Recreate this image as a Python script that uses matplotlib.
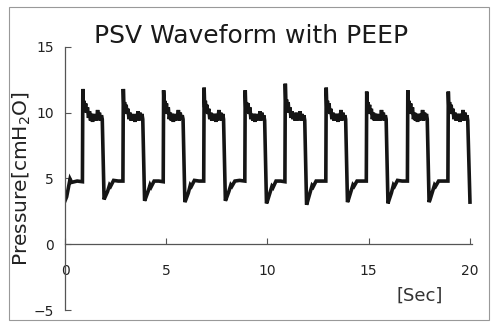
import matplotlib.pyplot as plt
from matplotlib.patches import Rectangle

# pressure trace, one row per breath
time_s = [
    0.00, 0.08, 0.17, 0.25, 0.33, 0.60,
    0.86, 0.88, 0.91, 0.94, 0.98, 1.02, 1.06, 1.11, 1.16, 1.21, 1.26, 1.31, 1.36, 1.41, 1.46, 1.51, 1.56, 1.61, 1.65, 1.70, 1.75, 1.80, 1.84, 1.93, 1.97, 2.10, 2.20, 2.25, 2.40, 2.63,
    2.86, 2.88, 2.91, 2.94, 2.98, 3.02, 3.06, 3.11, 3.16, 3.21, 3.26, 3.31, 3.36, 3.41, 3.46, 3.51, 3.56, 3.61, 3.65, 3.70, 3.75, 3.80, 3.84, 3.93, 3.97, 4.10, 4.20, 4.25, 4.40, 4.63,
    4.85, 4.87, 4.90, 4.93, 4.97, 5.01, 5.05, 5.10, 5.15, 5.20, 5.25, 5.30, 5.35, 5.40, 5.45, 5.50, 5.55, 5.60, 5.64, 5.69, 5.74, 5.79, 5.83, 5.92, 5.96, 6.09, 6.19, 6.24, 6.39, 6.62,
    6.85, 6.87, 6.90, 6.93, 6.97, 7.01, 7.05, 7.10, 7.15, 7.20, 7.25, 7.30, 7.35, 7.40, 7.45, 7.50, 7.55, 7.60, 7.64, 7.69, 7.74, 7.79, 7.83, 7.92, 7.96, 8.09, 8.19, 8.24, 8.39, 8.62,
    8.88, 8.90, 8.93, 8.96, 9.00, 9.04, 9.08, 9.13, 9.18, 9.23, 9.28, 9.33, 9.38, 9.43, 9.48, 9.53, 9.58, 9.63, 9.67, 9.72, 9.77, 9.82, 9.86, 9.95, 9.99, 10.12, 10.22, 10.27, 10.42, 10.65,
    10.86, 10.88, 10.91, 10.94, 10.98, 11.02, 11.06, 11.11, 11.16, 11.21, 11.26, 11.31, 11.36, 11.41, 11.46, 11.51, 11.56, 11.61, 11.65, 11.70, 11.75, 11.80, 11.84, 11.93, 11.97, 12.10, 12.20, 12.25, 12.40, 12.63,
    12.88, 12.90, 12.93, 12.96, 13.00, 13.04, 13.08, 13.13, 13.18, 13.23, 13.28, 13.33, 13.38, 13.43, 13.48, 13.53, 13.58, 13.63, 13.67, 13.72, 13.77, 13.82, 13.86, 13.95, 13.99, 14.12, 14.22, 14.27, 14.42, 14.65,
    14.88, 14.90, 14.93, 14.96, 15.00, 15.04, 15.08, 15.13, 15.18, 15.23, 15.28, 15.33, 15.38, 15.43, 15.48, 15.53, 15.58, 15.63, 15.67, 15.72, 15.77, 15.82, 15.86, 15.95, 15.99, 16.12, 16.22, 16.27, 16.42, 16.65,
    16.91, 16.93, 16.96, 16.99, 17.03, 17.07, 17.11, 17.16, 17.21, 17.26, 17.31, 17.36, 17.41, 17.46, 17.51, 17.56, 17.61, 17.66, 17.70, 17.75, 17.80, 17.85, 17.89, 17.98, 18.02, 18.15, 18.25, 18.30, 18.45, 18.68,
    18.91, 18.93, 18.96, 18.99, 19.03, 19.07, 19.11, 19.16, 19.21, 19.26, 19.31, 19.36, 19.41, 19.46, 19.51, 19.56, 19.61, 19.66, 19.70, 19.75, 19.80, 19.85, 19.89, 20.00,
]
pressure = [
    3.3, 3.6, 4.3, 4.95, 4.7, 4.8,
    4.75, 11.8, 10.4, 10.9, 10.2, 10.7, 10.0, 10.4, 9.6, 10.1, 9.4, 9.9, 9.3, 9.9, 9.4, 9.8, 9.4, 10.2, 9.5, 10.0, 9.4, 9.8, 9.5, 3.4, 3.55, 4.0, 4.5, 4.4, 4.85, 4.8,
    4.8, 11.8, 10.3, 10.8, 10.1, 10.6, 9.9, 10.3, 9.5, 10.0, 9.4, 9.9, 9.4, 9.8, 9.3, 9.9, 9.5, 10.1, 9.4, 10.0, 9.5, 9.9, 9.5, 3.3, 3.45, 4.0, 4.5, 4.35, 4.8, 4.8,
    4.75, 11.7, 10.4, 10.9, 10.1, 10.7, 9.9, 10.4, 9.5, 10.0, 9.4, 9.9, 9.3, 9.9, 9.4, 9.8, 9.5, 10.2, 9.4, 10.0, 9.5, 9.8, 9.5, 3.2, 3.35, 3.9, 4.5, 4.4, 4.85, 4.8,
    4.8, 11.9, 10.4, 10.9, 10.2, 10.6, 9.9, 10.3, 9.5, 10.0, 9.4, 9.9, 9.4, 9.9, 9.3, 9.9, 9.4, 10.2, 9.5, 10.0, 9.4, 9.9, 9.5, 3.3, 3.45, 4.0, 4.5, 4.4, 4.8, 4.85,
    4.8, 11.7, 10.3, 10.8, 10.1, 10.7, 9.9, 10.4, 9.5, 9.9, 9.4, 9.9, 9.3, 9.9, 9.4, 9.8, 9.5, 10.1, 9.4, 10.0, 9.5, 9.8, 9.4, 3.1, 3.25, 3.9, 4.4, 4.3, 4.8, 4.8,
    4.75, 12.2, 10.6, 11.0, 10.3, 10.8, 10.0, 10.4, 9.6, 10.1, 9.5, 9.9, 9.4, 10.0, 9.4, 9.9, 9.5, 10.1, 9.4, 9.9, 9.4, 9.8, 9.4, 3.0, 3.2, 3.9, 4.45, 4.35, 4.8, 4.8,
    4.8, 11.9, 10.4, 10.9, 10.2, 10.7, 9.9, 10.3, 9.5, 10.0, 9.4, 9.9, 9.4, 9.9, 9.3, 9.9, 9.5, 10.2, 9.4, 10.0, 9.5, 9.8, 9.5, 3.2, 3.35, 4.0, 4.5, 4.4, 4.8, 4.8,
    4.8, 11.6, 10.3, 10.8, 10.1, 10.6, 9.9, 10.3, 9.5, 10.0, 9.4, 9.9, 9.4, 9.9, 9.4, 9.8, 9.4, 10.2, 9.5, 10.0, 9.4, 9.8, 9.5, 3.1, 3.3, 3.9, 4.5, 4.4, 4.85, 4.8,
    4.8, 11.7, 10.4, 10.9, 10.1, 10.7, 9.9, 10.4, 9.5, 10.0, 9.4, 9.9, 9.3, 9.9, 9.4, 9.9, 9.5, 10.2, 9.4, 10.0, 9.5, 9.9, 9.5, 3.2, 3.35, 4.0, 4.5, 4.4, 4.8, 4.8,
    4.8, 11.6, 10.3, 10.8, 10.1, 10.6, 9.9, 10.3, 9.5, 10.0, 9.4, 9.9, 9.4, 9.9, 9.3, 9.9, 9.5, 10.2, 9.4, 10.0, 9.5, 9.8, 9.4, 3.2,
]

x_ticks = [0, 5, 10, 15, 20]
y_ticks = [-5, 0, 5, 10, 15]

fig = plt.figure(figsize=(4.91, 3.23), dpi=100)
ax = fig.add_axes([0.1324, 0.0402, 0.8289, 0.8148])

ax.plot(time_s, pressure, color='#151515', linewidth=2.6, solid_joinstyle='miter')

ax.set_xlim(0, 20.1)
ax.set_ylim(-5, 15)
ax.set_xticks(x_ticks)
ax.set_yticks(y_ticks)
ax.set_yticklabels(['\u22125', '0', '5', '10', '15'])

# x axis sits on zero, no box
ax.spines['bottom'].set_position(('data', 0))
ax.spines['top'].set_visible(False)
ax.spines['right'].set_visible(False)
for s in ['left', 'bottom']:
    ax.spines[s].set_color('#555555')
    ax.spines[s].set_linewidth(0.9)
ax.tick_params(axis='both', direction='in', length=4, color='#555555', labelsize=10, labelcolor='#222222')
ax.tick_params(axis='x', pad=14)
ax.tick_params(axis='y', pad=8)

ax.set_ylabel('Pressure[cmH$_2$O]', fontsize=14.5, color='#222222')
ax.yaxis.set_label_coords(-0.078, 0.5)

fig.text(0.511, 0.89, 'PSV Waveform with PEEP', fontsize=18, color='#1a1a1a', ha='center', va='center')
fig.text(0.855, 0.085, '[Sec]', fontsize=13, color='#333333', ha='center', va='center')

# thin frame round the whole picture
fig.patches.append(Rectangle((9 / 491, 3 / 323), 480 / 491, 313 / 323, transform=fig.transFigure,
                             fill=False, edgecolor='#999999', linewidth=0.8))

fig.savefig('out.png', dpi=100)
